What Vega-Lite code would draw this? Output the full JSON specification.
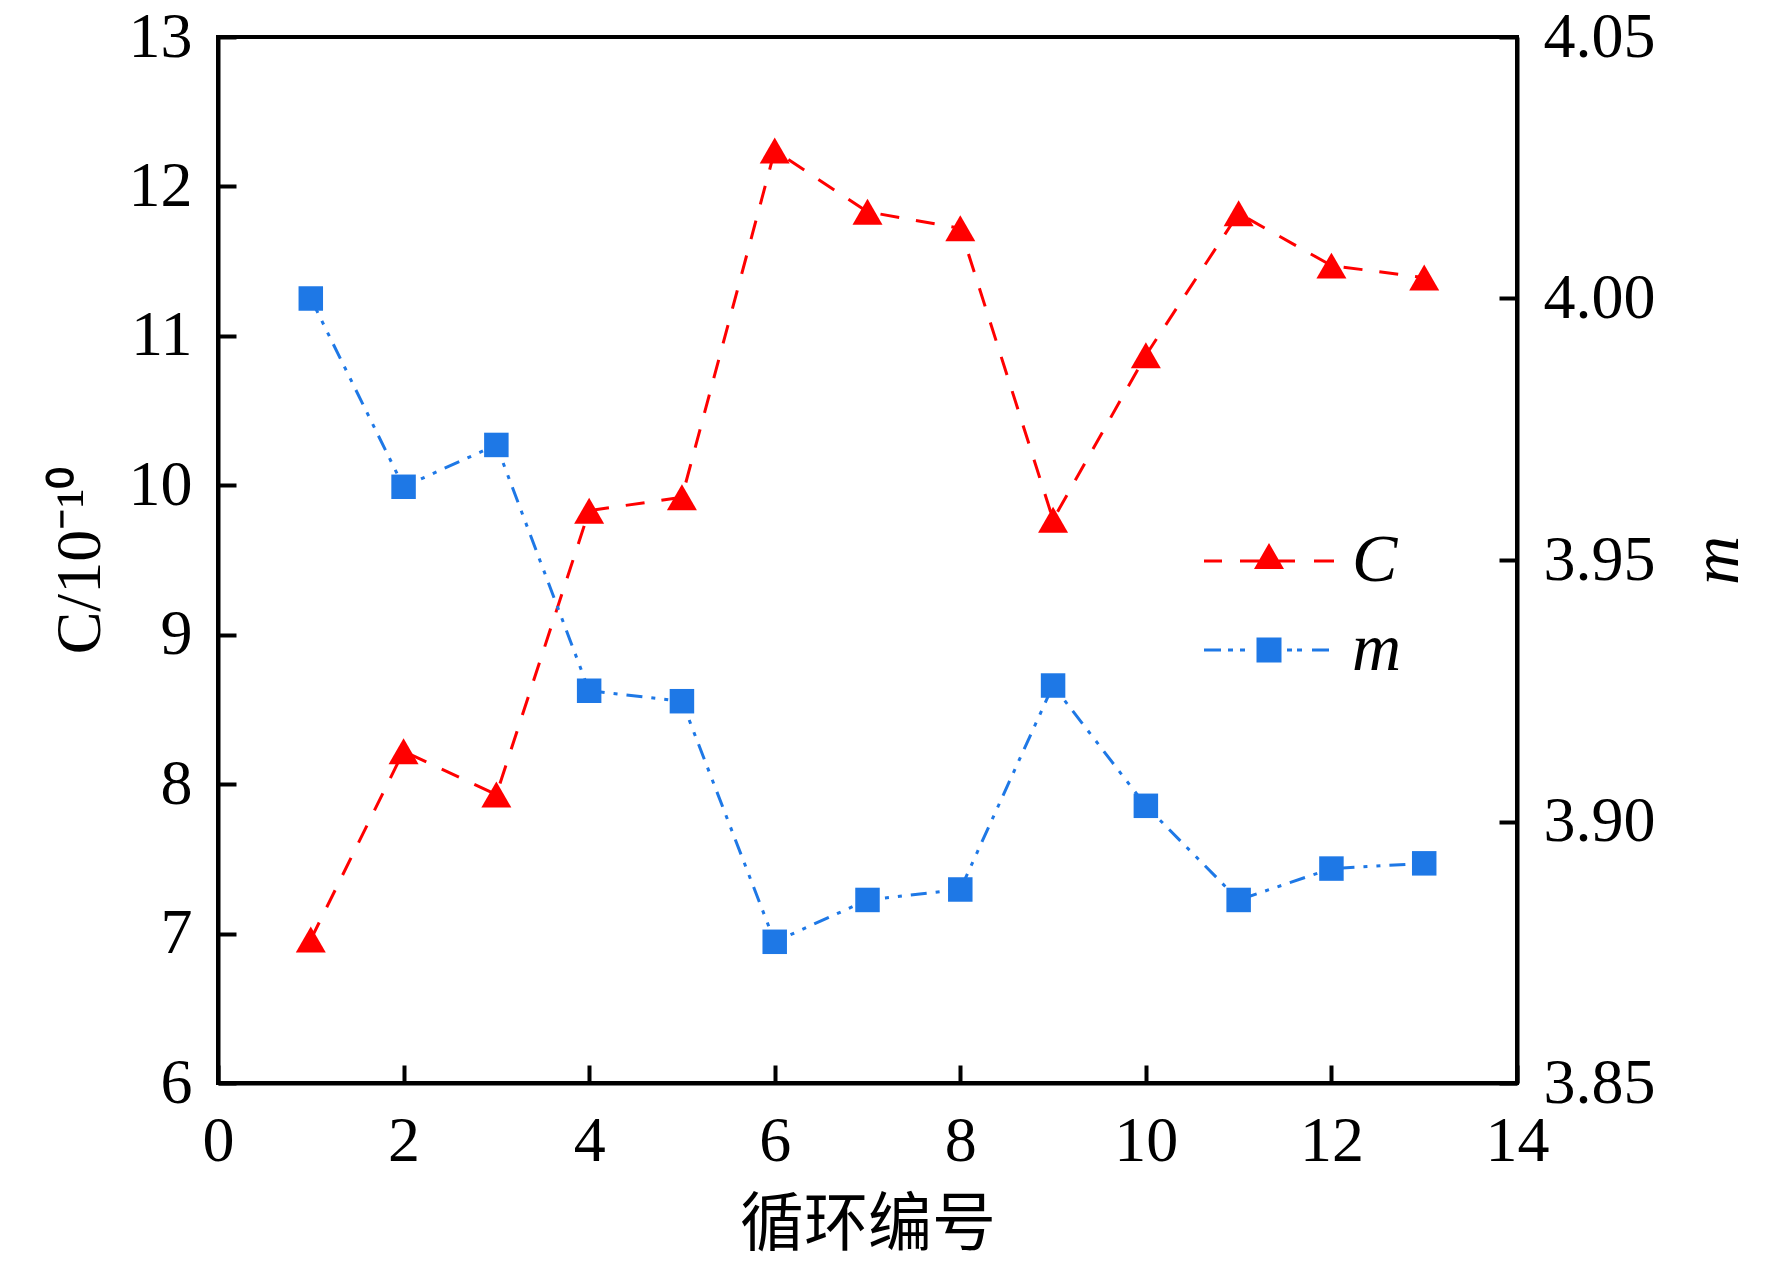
{
  "$schema": "https://vega.github.io/schema/vega-lite/v6.json",
  "width": 1299,
  "height": 1046,
  "autosize": {"type": "none"},
  "padding": {"left": 218, "top": 37, "right": 255, "bottom": 181},
  "background": "white",
  "data": {
    "values": [
      {"cycle": 1, "series": "C", "value": 6.96},
      {"cycle": 2, "series": "C", "value": 8.22},
      {"cycle": 3, "series": "C", "value": 7.93},
      {"cycle": 4, "series": "C", "value": 9.83},
      {"cycle": 5, "series": "C", "value": 9.92},
      {"cycle": 6, "series": "C", "value": 12.24},
      {"cycle": 7, "series": "C", "value": 11.83},
      {"cycle": 8, "series": "C", "value": 11.72},
      {"cycle": 9, "series": "C", "value": 9.77},
      {"cycle": 10, "series": "C", "value": 10.87},
      {"cycle": 11, "series": "C", "value": 11.82},
      {"cycle": 12, "series": "C", "value": 11.47},
      {"cycle": 13, "series": "C", "value": 11.39},
      {"cycle": 1, "series": "m", "value": 4.000},
      {"cycle": 2, "series": "m", "value": 3.964},
      {"cycle": 3, "series": "m", "value": 3.972},
      {"cycle": 4, "series": "m", "value": 3.925},
      {"cycle": 5, "series": "m", "value": 3.923},
      {"cycle": 6, "series": "m", "value": 3.877},
      {"cycle": 7, "series": "m", "value": 3.885},
      {"cycle": 8, "series": "m", "value": 3.887},
      {"cycle": 9, "series": "m", "value": 3.926},
      {"cycle": 10, "series": "m", "value": 3.903},
      {"cycle": 11, "series": "m", "value": 3.885},
      {"cycle": 12, "series": "m", "value": 3.891},
      {"cycle": 13, "series": "m", "value": 3.892}
    ]
  },
  "encoding": {
    "x": {
      "field": "cycle",
      "type": "quantitative",
      "scale": {"domain": [0, 14], "nice": false, "zero": false},
      "axis": {
        "values": [0, 2, 4, 6, 8, 10, 12, 14],
        "title": "循环编号",
        "titleFont": "Noto Sans CJK SC",
        "titleFontSize": 64,
        "titlePadding": 20
      }
    },
    "color": {
      "field": "series",
      "type": "nominal",
      "scale": {"domain": ["C", "m"], "range": ["#ff0000", "#1e78e6"]},
      "legend": {
        "title": null,
        "orient": "none",
        "legendX": 1017,
        "legendY": 490,
        "labelFont": "Liberation Serif",
        "labelFontStyle": "italic",
        "labelFontSize": 68,
        "labelColor": "black",
        "labelOffset": 49,
        "rowPadding": 21,
        "symbolSize": 4,
        "encode": {
          "symbols": {
            "update": {
              "shape": {"signal": "datum.value === 'C' ? 'M-65,-1.6H-47V1.6H-65Z M-29,-1.6H26V1.6H-29Z M45,-1.6H65V1.6H45Z M0,-18L15,8L-15,8Z' : 'M-65,-1.6H-48V1.6H-65Z M-41,-1.6H-36V1.6H-41Z M-29,-1.6H-24V1.6H-29Z M-12.5,-12.5H12.5V12.5H-12.5Z M18,-1.6H23V1.6H18Z M28,-1.6H33V1.6H28Z M43,-1.6H60V1.6H43Z'"},
              "fill": {"signal": "datum.value === 'C' ? '#ff0000' : '#1e78e6'"},
              "stroke": {"value": "transparent"},
              "strokeWidth": {"value": 0},
              "size": {"value": 4},
              "opacity": {"value": 1}
            }
          }
        }
      }
    }
  },
  "layer": [
    {
      "transform": [{"filter": "datum.series === 'C'"}],
      "encoding": {
        "y": {
          "field": "value",
          "type": "quantitative",
          "scale": {"domain": [6, 13], "nice": false, "zero": false},
          "axis": {
            "orient": "left",
            "values": [6, 7, 8, 9, 10, 11, 12, 13],
            "format": "d",
            "title": "C/10⁻¹⁰",
            "titlePadding": 16
          }
        }
      },
      "layer": [
        {"mark": {"type": "line", "strokeDash": [19, 17], "strokeWidth": 3}},
        {"mark": {"type": "point", "shape": "triangle-up", "filled": true, "size": 900, "opacity": 1}}
      ]
    },
    {
      "transform": [{"filter": "datum.series === 'm'"}],
      "encoding": {
        "y": {
          "field": "value",
          "type": "quantitative",
          "scale": {"domain": [3.85, 4.05], "nice": false, "zero": false},
          "axis": {
            "orient": "right",
            "values": [3.85, 3.9, 3.95, 4.0, 4.05],
            "format": ".2f",
            "title": "m",
            "titleFontStyle": "italic",
            "titleFontSize": 68,
            "titleAngle": -90,
            "titleBaseline": "top",
            "titlePadding": 28
          }
        }
      },
      "layer": [
        {"mark": {"type": "line", "strokeDash": [16, 9, 4, 9, 4, 9], "strokeWidth": 3}},
        {"mark": {"type": "point", "shape": "square", "filled": true, "size": 600, "opacity": 1}}
      ]
    }
  ],
  "resolve": {"scale": {"y": "independent"}},
  "config": {
    "view": {"stroke": "black", "strokeWidth": 4},
    "font": "Liberation Serif",
    "axis": {
      "grid": false,
      "domainColor": "black",
      "domainWidth": 4,
      "tickColor": "black",
      "tickWidth": 4,
      "tickSize": -18,
      "labelFont": "Liberation Serif",
      "labelFontSize": 64,
      "labelColor": "black",
      "labelPadding": 44,
      "labelFlush": false,
      "labelOverlap": false,
      "titleFont": "Liberation Serif",
      "titleFontSize": 64,
      "titleFontWeight": "normal",
      "titleColor": "black"
    }
  }
}
